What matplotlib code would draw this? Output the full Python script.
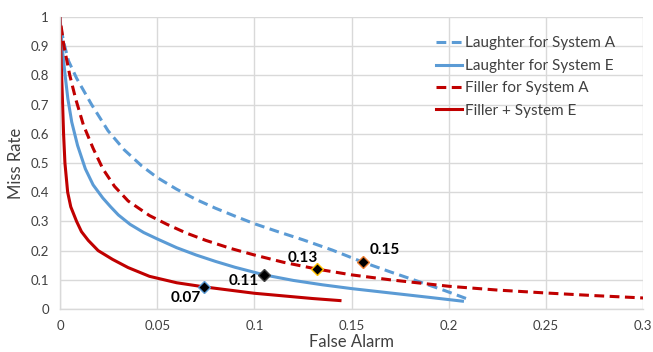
import matplotlib
matplotlib.use("Agg")
import matplotlib.pyplot as plt

plt.rcParams['font.family'] = ['Lato', 'DejaVu Sans']

# Data
laugh_a_x = [0.0005, 0.002, 0.0043, 0.0085, 0.0162, 0.0247, 0.033, 0.042, 0.05, 0.06, 0.07,
             0.08, 0.09, 0.1, 0.112, 0.125, 0.14, 0.156, 0.17, 0.185, 0.198, 0.211]
laugh_a_y = [0.96, 0.91, 0.85, 0.79, 0.70, 0.61, 0.545, 0.49, 0.45, 0.41, 0.375,
             0.345, 0.318, 0.292, 0.265, 0.237, 0.202, 0.16, 0.127, 0.093, 0.063, 0.031]

laugh_e_x = [0.0, 0.001, 0.0026, 0.004, 0.006, 0.009, 0.013, 0.017, 0.022, 0.026, 0.03,
             0.036, 0.043, 0.05, 0.06, 0.07, 0.08, 0.09, 0.105, 0.12, 0.135, 0.15, 0.17,
             0.19, 0.207]
laugh_e_y = [1.0, 0.90, 0.80, 0.72, 0.64, 0.56, 0.48, 0.425, 0.38, 0.35, 0.322,
             0.29, 0.262, 0.24, 0.21, 0.185, 0.163, 0.143, 0.117, 0.098, 0.083, 0.07, 0.055,
             0.04, 0.027]

fill_a_x = [0.0005, 0.002, 0.005, 0.008, 0.012, 0.017, 0.022, 0.028, 0.035, 0.046, 0.055,
            0.065, 0.075, 0.088, 0.1, 0.115, 0.132, 0.15, 0.17, 0.2, 0.225, 0.25, 0.275, 0.3]
fill_a_y = [0.97, 0.90, 0.80, 0.72, 0.63, 0.55, 0.48, 0.42, 0.37, 0.32, 0.29,
            0.26, 0.235, 0.207, 0.185, 0.16, 0.137, 0.117, 0.10, 0.078, 0.065, 0.055, 0.046, 0.038]

fill_e_x = [0.0, 0.0003, 0.0008, 0.0013, 0.0018, 0.0025, 0.0039, 0.0055, 0.0085, 0.011, 0.0145,
            0.0196, 0.027, 0.035, 0.046, 0.06, 0.074, 0.087, 0.1, 0.115, 0.13, 0.144]
fill_e_y = [1.0, 0.90, 0.80, 0.70, 0.60, 0.50, 0.40, 0.35, 0.30, 0.265, 0.235,
            0.20, 0.17, 0.142, 0.112, 0.09, 0.076, 0.065, 0.054, 0.045, 0.036, 0.029]

series_labels = ["Laughter for System A", "Laughter for System E",
                 "Filler for System A", "Filler + System E"]

marker_x = [0.074, 0.105, 0.132, 0.156]
marker_y = [0.076, 0.116, 0.137, 0.16]
marker_labels = ["0.07", "0.11", "0.13", "0.15"]
marker_edges = ["#5b9bd5", "#404040", "#ffc000", "#ed7d31"]
label_offsets = [(-18, -11), (-20, -6), (-14, 11), (21, 12)]

x_ticks = [0, 0.05, 0.1, 0.15, 0.2, 0.25, 0.3]
x_tick_labels = ["0", "0.05", "0.1", "0.15", "0.2", "0.25", "0.3"]
y_ticks = [0, 0.1, 0.2, 0.3, 0.4, 0.5, 0.6, 0.7, 0.8, 0.9, 1.0]
y_tick_labels = ["0", "0.1", "0.2", "0.3", "0.4", "0.5", "0.6", "0.7", "0.8", "0.9", "1"]

blue = "#5b9bd5"
red = "#c00000"

fig = plt.figure(figsize=(6.53, 3.52), dpi=100)
ax = fig.add_axes([0.092, 0.122, 0.893, 0.83])

lw = 2.2
ax.plot(laugh_a_x, laugh_a_y, color=blue, lw=lw, dashes=(3.2, 1.8), label=series_labels[0])
ax.plot(laugh_e_x, laugh_e_y, color=blue, lw=lw, label=series_labels[1])
ax.plot(fill_a_x, fill_a_y, color=red, lw=lw, dashes=(3.2, 1.8), label=series_labels[2])
ax.plot(fill_e_x, fill_e_y, color=red, lw=lw, label=series_labels[3])

for mx, my, lab, ec, off in zip(marker_x, marker_y, marker_labels, marker_edges, label_offsets):
    ax.plot([mx], [my], marker='D', markersize=6.5, markerfacecolor='black',
            markeredgecolor=ec, markeredgewidth=1.0, zorder=5)
    ax.annotate(lab, (mx, my), xytext=off, textcoords='offset pixels',
                ha='center', va='center', fontsize=11, fontweight='bold', color='black')

ax.set_xlim(0, 0.3)
ax.set_ylim(0, 1.0)
ax.set_xticks(x_ticks)
ax.set_xticklabels(x_tick_labels)
ax.set_yticks(y_ticks)
ax.set_yticklabels(y_tick_labels)
ax.tick_params(length=0, labelsize=9.5, colors='#404040', pad=8)
ax.grid(True, color='#d9d9d9', lw=1.0)
ax.set_axisbelow(True)
for s in ['top', 'right']:
    ax.spines[s].set_visible(False)
for s in ['left', 'bottom']:
    ax.spines[s].set_color('#d9d9d9')
    ax.spines[s].set_linewidth(1.0)

ax.set_xlabel("False Alarm", fontsize=12, color='#404040', labelpad=1)
ax.set_ylabel("Miss Rate", fontsize=12, color='#404040', labelpad=5)

ax.legend(loc='upper right', bbox_to_anchor=(0.975, 0.98), frameon=False, fontsize=11,
          handlelength=1.7, handletextpad=0.2, labelspacing=0.55, labelcolor='#404040')

fig.savefig("out.png", dpi=100)
